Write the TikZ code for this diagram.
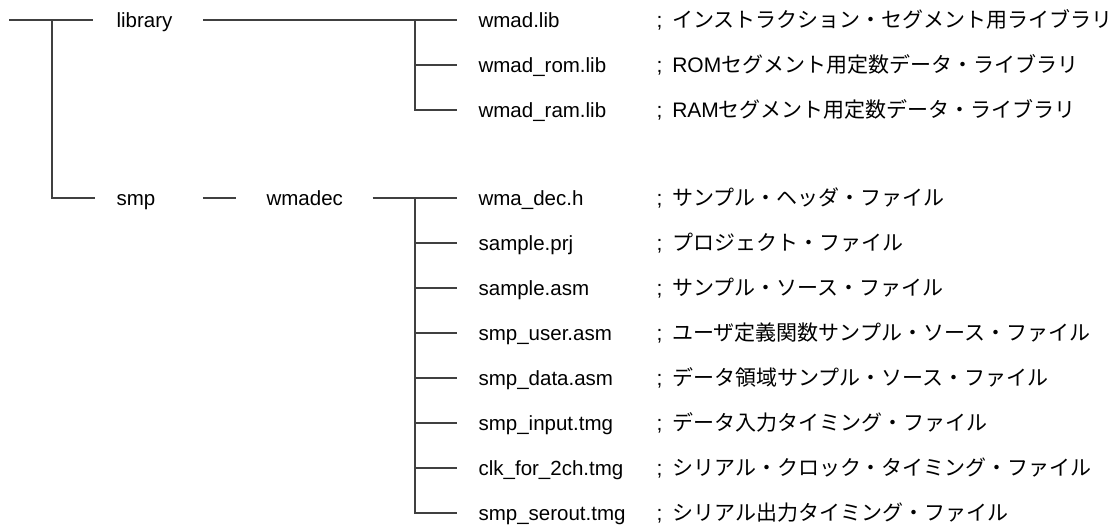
\documentclass[tikz,border=0pt]{standalone}
\usepackage{fontspec}
\setmainfont{Liberation Sans}
\newfontfamily\jp{Noto Sans CJK JP}
\newcommand{\semi}{;\hspace{4pt} }
\begin{document}
\begin{tikzpicture}[x=1pt, y=-1pt,
	line width=1.2pt, draw=black!75,
	every node/.style={font=\fontsize{20.5}{24}\selectfont, inner sep=0pt, text height=14.6pt, text depth=0pt, anchor=west},
	desc/.style={font=\fontsize{21}{24}\selectfont}]
\useasboundingbox (0,0) rectangle (1120,526) ;
% junctions
\coordinate (root) at (9,20) ;
\coordinate (rootj) at (52,20) ;
\coordinate (libj) at (415,20) ;
\coordinate (decj) at (415,198) ;

\node (library) at (116,20) {library} ;
\node (smp) at (116,198) {smp} ;
\node (wmadec) at (266,198) {wmadec} ;

% library files
\node (wmad) at (478,20) {wmad.lib} ;
\node (wmadrom) at (478,65) {wmad\_rom.lib} ;
\node (wmadram) at (478,110) {wmad\_ram.lib} ;
		\node (wmad-c)[desc] at (656,20) {\semi\jp インストラクション・セグメント用ライブラリ} ;
		\node (wmadrom-c)[desc] at (656,65) {\semi ROM\jp セグメント用定数データ・ライブラリ} ;
		\node (wmadram-c)[desc] at (656,110) {\semi RAM\jp セグメント用定数データ・ライブラリ} ;

% wmadec files
\node (dech) at (478,198) {wma\_dec.h} ;
\node (prj) at (478,243) {sample.prj} ;
\node (asm) at (478,288) {sample.asm} ;
\node (user) at (478,333) {smp\_user.asm} ;
\node (data) at (478,378) {smp\_data.asm} ;
\node (input) at (478,423) {smp\_input.tmg} ;
\node (clk) at (478,468) {clk\_for\_2ch.tmg} ;
\node (serout) at (478,513) {smp\_serout.tmg} ;
		\node (dech-c)[desc] at (656,198) {\semi\jp サンプル・ヘッダ・ファイル} ;
		\node (prj-c)[desc] at (656,243) {\semi\jp プロジェクト・ファイル} ;
		\node (asm-c)[desc] at (656,288) {\semi\jp サンプル・ソース・ファイル} ;
		\node (user-c)[desc] at (656,333) {\semi\jp ユーザ定義関数サンプル・ソース・ファイル} ;
		\node (data-c)[desc] at (656,378) {\semi\jp データ領域サンプル・ソース・ファイル} ;
		\node (input-c)[desc] at (656,423) {\semi\jp データ入力タイミング・ファイル} ;
		\node (clk-c)[desc] at (656,468) {\semi\jp シリアル・クロック・タイミング・ファイル} ;
		\node (serout-c)[desc] at (656,513) {\semi\jp シリアル出力タイミング・ファイル} ;

% tree lines
\draw[shorten >=23pt] (root) -- (library.west) ;
\draw[shorten >=21pt] (rootj) |- (smp.west) ;
\draw[shorten <=30pt, shorten >=21pt] (library.east) -- (wmad.west) ;
\draw[shorten >=21pt] (libj) |- (wmadrom.west) ;
\draw[shorten >=21pt] (libj) |- (wmadram.west) ;

\draw[shorten <=47pt, shorten >=30pt] (smp.east) -- (wmadec.west) ;
\draw[shorten <=29pt, shorten >=21pt] (wmadec.east) -- (dech.west) ;
\draw[shorten >=21pt] (decj) |- (prj.west) ;
\draw[shorten >=21pt] (decj) |- (asm.west) ;
\draw[shorten >=21pt] (decj) |- (user.west) ;
\draw[shorten >=21pt] (decj) |- (data.west) ;
\draw[shorten >=21pt] (decj) |- (input.west) ;
\draw[shorten >=21pt] (decj) |- (clk.west) ;
\draw[shorten >=21pt] (decj) |- (serout.west) ;
\end{tikzpicture}
\end{document}
